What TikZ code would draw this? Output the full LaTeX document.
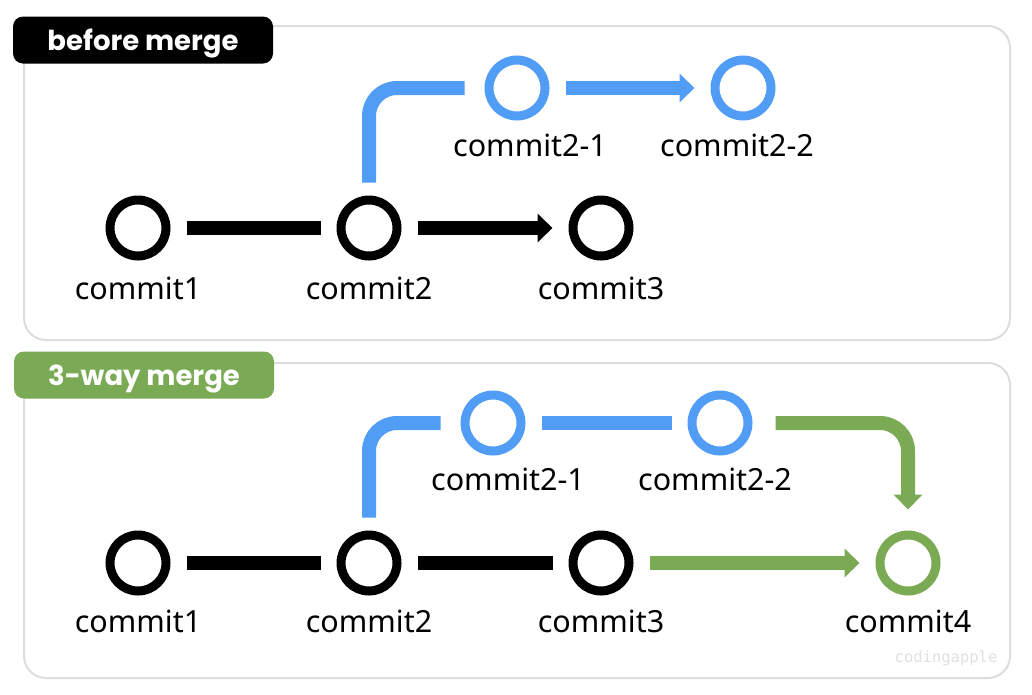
\documentclass[tikz,border=0pt]{standalone}
\usepackage{fontspec}
\setmainfont{Noto Sans}
\newfontfamily\tagfont{Poppins}
\setmonofont{DejaVu Sans Mono}
\usepackage{xcolor}
\usetikzlibrary{positioning, arrows.meta}

\definecolor{gitblue}{HTML}{519DF5}
\definecolor{gitgreen}{HTML}{7BAA55}
\definecolor{panelgray}{HTML}{DDDDDD}

\newcommand{\tagtext}[1]{\raisebox{-10pt}[0pt][0pt]{#1}}

\tikzset{
    commit/.style={circle, draw=black, line width=9pt, minimum size=56pt, inner sep=0pt},
    lbl/.style={font=\fontsize{30.5}{33}\selectfont},
    tag/.style={rounded corners=10pt, minimum width=260pt, minimum height=47pt, text=white,
        font=\tagfont\bfseries\fontsize{27.5}{30}\selectfont},
    panel/.style={draw=panelgray, line width=2pt, rounded corners=22pt},
    conn/.style={line width=14pt, shorten <=16pt, shorten >=16pt},
    tip/.style={-{Triangle[length=15pt, width=28pt]}}
}

\begin{document}
\begin{tikzpicture}[x=1pt, y=-1pt]
    \useasboundingbox (0,0) rectangle (1032,694);

    % before merge
    \draw[panel] (24,26) rectangle (1010,340);
    \node[tag, fill=black] (tagA) at (143,40) {\tagtext{before merge}};

    \node[commit] (a1) at (138,228) {};
    \node[commit] (a2) at (369,228) {};
    \node[commit] (a3) at (601,228) {};
    \node[commit, draw=gitblue] (a21) at (517,88) {};
    \node[commit, draw=gitblue] (a22) at (743,88) {};

    \node[lbl] at (138,288) {commit1};
    \node[lbl] at (369,288) {commit2};
    \node[lbl] at (601,288) {commit3};
    \node[lbl] at (530,145) {commit2-1};
    \node[lbl] at (737,145) {commit2-2};

    \draw[conn] (a1) -- (a2);
    \draw[conn, tip] (a2) -- (a3);
    \draw[gitblue, line width=14pt, rounded corners=28pt]
        ([yshift=13pt]a2.north) |- ([xshift=-20pt]a21.west);
    \draw[conn, tip, draw=gitblue] (a21) -- (a22);

    % 3-way merge
    \draw[panel] (24,363) rectangle (1010,678);
    \node[tag, fill=gitgreen] (tagB) at (144,375) {\tagtext{3-way merge}};

    \node[commit] (b1) at (138,563) {};
    \node[commit] (b2) at (369,563) {};
    \node[commit] (b3) at (601,563) {};
    \node[commit, draw=gitblue] (b21) at (493,423) {};
    \node[commit, draw=gitblue] (b22) at (720,423) {};
    \node[commit, draw=gitgreen] (b4) at (908,563) {};

    \node[lbl] at (138,621) {commit1};
    \node[lbl] at (369,621) {commit2};
    \node[lbl] at (601,621) {commit3};
    \node[lbl] at (508,479) {commit2-1};
    \node[lbl] at (715,479) {commit2-2};
    \node[lbl] at (908,621) {commit4};

    \draw[conn] (b1) -- (b2);
    \draw[conn] (b2) -- (b3);
    \draw[gitblue, line width=14pt, rounded corners=28pt]
        ([yshift=13pt]b2.north) |- ([xshift=-20pt]b21.west);
    \draw[conn, draw=gitblue] (b21) -- (b22);
    \draw[conn, tip, draw=gitgreen] (b3) -- (b4);
    \draw[gitgreen, line width=14pt, rounded corners=28pt, tip]
        ([xshift=23pt]b22.east) -| ([yshift=21pt]b4.north);

    \node[font=\ttfamily\fontsize{15.5}{18}\selectfont, text=black!12] at (946,658) {codingapple};
\end{tikzpicture}
\end{document}
